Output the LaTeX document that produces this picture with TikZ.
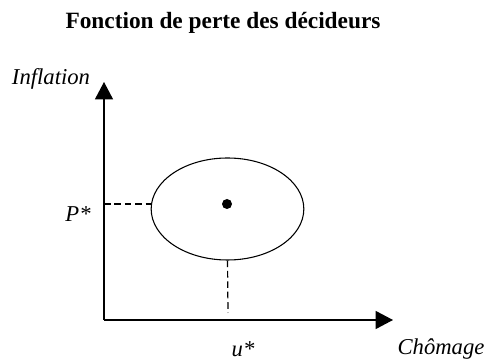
\documentclass[tikz,border=0pt]{standalone}
\usepackage{fontspec}
\setmainfont{Liberation Serif}
\usetikzlibrary{arrows.meta, positioning, shapes.geometric}

\begin{document}
\begin{tikzpicture}[x=0.75pt, y=0.75pt,
      axe/.style={-{Triangle[length=13pt, width=13.5pt]}, line width=0.9pt},
      pointille/.style={dashed, dash pattern=on 5pt off 2.8pt, line width=0.9pt},
      lbl/.style={font=\fontsize{17}{20}\selectfont\itshape, inner sep=0pt}]
    \useasboundingbox (0, 0) rectangle (490, 360);
    \node[font=\fontsize{17.5}{20}\selectfont\bfseries, inner sep=0pt] (titre) at (223, 337) {Fonction de perte des décideurs};
    \coordinate (O) at (104, 40);
    \coordinate (ytop) at (104, 278);
    \coordinate (xend) at (393, 40);
    \draw[axe] (O) -- (ytop);
    \draw[axe] (O) -- (xend);
    \node[draw, ellipse, line width=0.8pt, minimum width=114.5pt, minimum height=76.5pt, inner sep=0pt] (perte) at (227.5, 151) {};
    \node[circle, fill, inner sep=0pt, minimum size=7.5pt] (opt) at (227, 156) {};
    \coordinate (ubas) at (228, 47);
    \draw[pointille] (O |- opt) -- (perte.west |- opt);
    \draw[pointille] (perte.south) -- (ubas);
    \node[lbl] (infl) at (51, 281) {Inflation};
    \node[lbl] (pstar) at (78, 146) {P*};
    \node[lbl] (ustar) at (243, 11) {u*};
    \node[lbl] (chom) at (441, 11) {Chômage};
  \end{tikzpicture}
\end{document}
